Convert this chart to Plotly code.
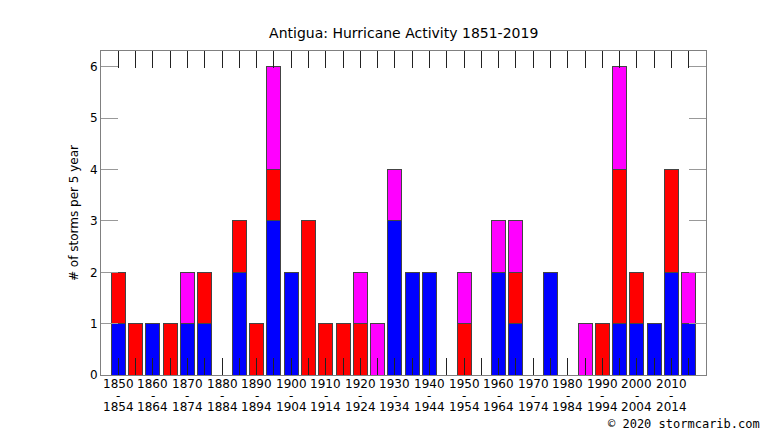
import plotly.graph_objects as go

# 5-year bins, 1850-1854 ... 2015-2019
start_years = list(range(1850, 2020, 5))
end_years = [y + 4 for y in start_years]

# storm counts per 5 year bin
blue_counts = [1, 0, 1, 0, 1, 1, 0, 2, 0, 3, 2, 0, 0, 0, 0, 0, 3,
               2, 2, 0, 0, 0, 2, 1, 0, 2, 0, 0, 0, 1, 1, 1, 2, 1]
red_counts = [1, 1, 0, 1, 0, 1, 0, 1, 1, 1, 0, 3, 1, 1, 1, 0, 0,
              0, 0, 0, 1, 0, 0, 1, 0, 0, 0, 0, 1, 3, 1, 0, 2, 0]
magenta_counts = [0, 0, 0, 0, 1, 0, 0, 0, 0, 2, 0, 0, 0, 0, 1, 1, 1,
                  0, 0, 0, 1, 0, 1, 1, 0, 0, 0, 1, 0, 2, 0, 0, 0, 1]

idx = list(range(len(start_years)))
outline = dict(color="#444444", width=1)

fig = go.Figure()
for name, vals, col in [
    ("Hurricanes", blue_counts, "#0000ff"),
    ("Tropical storms", red_counts, "#ff0000"),
    ("Other", magenta_counts, "#ff00ff"),
]:
    fig.add_trace(go.Bar(x=idx, y=vals, name=name, marker=dict(color=col, line=outline)))

# tick labels: "1850 - 1854" on every other bin, three lines
annos = []
for i in idx[::2]:
    for txt, shift in [(str(start_years[i]), -9), ("-", -20.5), (str(end_years[i]), -31.5)]:
        annos.append(dict(x=i, y=0, xref="x", yref="paper", text=txt, showarrow=False,
                          yanchor="middle", yshift=shift,
                          font=dict(family="DejaVu Sans", size=12, color="black")))

annos.append(dict(x=1.0926, y=-0.151, xref="paper", yref="paper", xanchor="right",
                  yanchor="middle", showarrow=False, text="© 2020 stormcarib.com",
                  font=dict(family="DejaVu Sans Mono", size=12, color="black")))

fig.update_layout(
    barmode="stack",
    bargap=0.19,
    width=766,
    height=431,
    margin=dict(l=101, r=60, t=51, b=56),
    plot_bgcolor="white",
    paper_bgcolor="white",
    showlegend=False,
    font=dict(family="DejaVu Sans", size=12, color="black"),
    title=dict(text="Antigua: Hurricane Activity 1851-2019", x=0.527, xanchor="center",
               y=0.923, yanchor="middle", yref="container",
               font=dict(family="DejaVu Sans", size=14, color="black")),
    annotations=annos,
)
fig.update_xaxes(range=[-1, 34], tickvals=idx, ticktext=[""] * len(idx),
                 ticks="inside", ticklen=17, tickcolor="#222222", tickwidth=1,
                 showline=True, linecolor="#808080", linewidth=1, mirror="ticks",
                 showgrid=False, zeroline=False, showticklabels=False,
                 layer="above traces")
fig.update_yaxes(range=[0, 6.31], tickvals=[0, 1, 2, 3, 4, 5, 6],
                 ticks="inside", ticklen=17, tickcolor="#999999", tickwidth=1,
                 showline=True, linecolor="#808080", linewidth=1, mirror="ticks",
                 showgrid=False, zeroline=False,
                 title=dict(text="# of storms per 5 year", standoff=8,
                            font=dict(family="DejaVu Sans", size=12)))

# drop the browser's default page margin so the figure sits at (0, 0)
fig.write_html("out.html", config={"displayModeBar": False},
               post_script="document.body.style.margin='0';")
